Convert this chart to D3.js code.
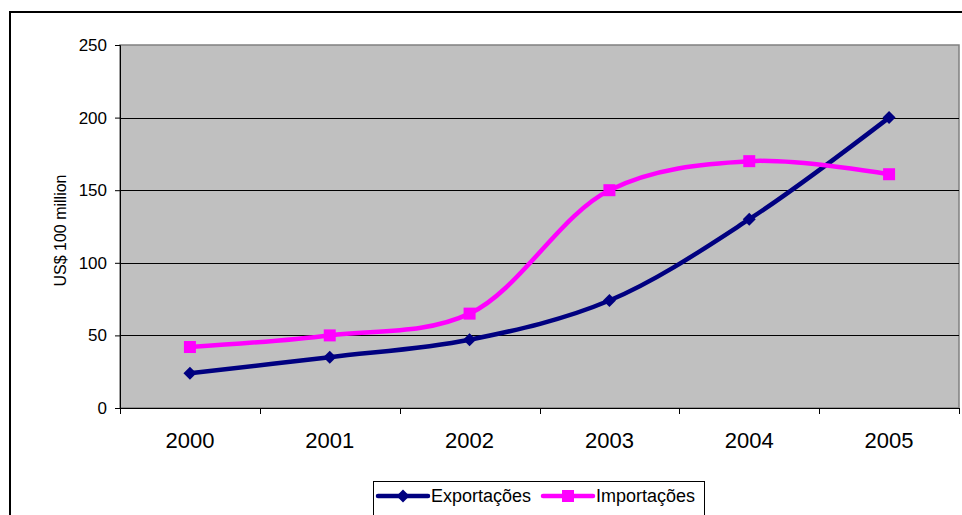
<!DOCTYPE html>
<html>
<head>
<meta charset="utf-8">
<script src="https://cdn.jsdelivr.net/npm/d3@7"></script>
<style>
  html, body { margin: 0; padding: 0; background: #fff; }
  svg { display: block; font-family: "Liberation Sans", Arial, sans-serif; }
</style>
</head>
<body>
<svg id="chart" width="962" height="515"></svg>
<script>
// Trade values by year (US$ 100 million)
const years = ["2000", "2001", "2002", "2003", "2004", "2005"];
const exportacoes = [24, 35, 47, 74, 130, 200];
const importacoes = [42, 50, 65, 150, 170, 161];
const yTicks = [0, 50, 100, 150, 200, 250];
const seriesNames = ["Exportações", "Importações"];

const FONT = "'Liberation Sans', Arial, sans-serif";
const svg = d3.select("#chart");
const plot = { left: 120, right: 959, top: 45, bottom: 408 };

// Outer chart frame
svg.append("rect")
  .attr("x", 10).attr("y", 12).attr("width", 970).attr("height", 520)
  .attr("fill", "#fff").attr("stroke", "#000").attr("stroke-width", 2);

const x = d3.scaleBand().domain(years).range([plot.left, plot.right]).padding(0);
const y = d3.scaleLinear().domain([0, 250]).range([plot.bottom, plot.top]);

// Plot area background
svg.append("rect")
  .attr("x", plot.left).attr("y", plot.top)
  .attr("width", plot.right - plot.left).attr("height", plot.bottom - plot.top)
  .attr("fill", "#C0C0C0").attr("stroke", "#808080").attr("stroke-width", 1.5);

// Horizontal gridlines
svg.append("g").selectAll("line")
  .data(yTicks.filter(d => d > 0 && d < 250))
  .join("line")
  .attr("x1", plot.left).attr("x2", plot.right)
  .attr("y1", d => Math.round(y(d)) + 0.5).attr("y2", d => Math.round(y(d)) + 0.5)
  .attr("stroke", "#000").attr("stroke-width", 1);

// Y axis
const yAxis = d3.axisLeft(y).tickValues(yTicks).tickSize(5).tickPadding(8);
const gy = svg.append("g").attr("transform", `translate(${plot.left},0)`).call(yAxis);
gy.select(".domain").attr("stroke", "#000");
gy.selectAll(".tick line").attr("stroke", "#000");
gy.selectAll("text").attr("font-size", 17).attr("fill", "#000")
  .attr("font-family", FONT);

// X axis: ticks between categories
const boundaries = years.map(d => x(d)).concat([x(years[years.length - 1]) + x.bandwidth()]);
svg.append("line")
  .attr("x1", plot.left).attr("x2", plot.right)
  .attr("y1", plot.bottom + 0.5).attr("y2", plot.bottom + 0.5)
  .attr("stroke", "#000");
svg.append("g").selectAll("line")
  .data(boundaries)
  .join("line")
  .attr("x1", d => Math.round(d) + 0.5).attr("x2", d => Math.round(d) + 0.5)
  .attr("y1", plot.bottom).attr("y2", plot.bottom + 6)
  .attr("stroke", "#000");
svg.append("g").selectAll("text")
  .data(years)
  .join("text")
  .attr("x", d => x(d) + x.bandwidth() / 2)
  .attr("y", 448)
  .attr("text-anchor", "middle")
  .attr("font-size", 22)
  .text(d => d);

// Y axis title
svg.append("text")
  .attr("transform", `translate(66,${(plot.top + plot.bottom) / 2 + 4}) rotate(-90)`)
  .attr("text-anchor", "middle")
  .attr("font-size", 16)
  .text("US$ 100 million");

const cx = d => x(d) + x.bandwidth() / 2;
const line = d3.line().curve(d3.curveCatmullRom.alpha(0.5));

const series = [
  { name: seriesNames[0], values: exportacoes, color: "#000080", marker: "diamond" },
  { name: seriesNames[1], values: importacoes, color: "#FF00FF", marker: "square" }
];

function drawMarker(g, px, py, s) {
  if (s.marker === "diamond") {
    g.append("path")
      .attr("d", `M${px},${py - 6.5}L${px + 6.5},${py}L${px},${py + 6.5}L${px - 6.5},${py}Z`)
      .attr("fill", s.color);
  } else {
    g.append("rect")
      .attr("x", px - 6).attr("y", py - 6).attr("width", 12).attr("height", 12)
      .attr("fill", s.color);
  }
}

series.forEach(s => {
  const pts = years.map((yr, i) => [cx(yr), y(s.values[i])]);
  const g = svg.append("g");
  g.append("path").attr("d", line(pts))
    .attr("fill", "none").attr("stroke", s.color).attr("stroke-width", 4.5)
    .attr("stroke-linejoin", "round");
  pts.forEach(p => drawMarker(g, p[0], p[1], s));
});

// Legend
const lg = svg.append("g");
lg.append("rect").attr("x", 373.5).attr("y", 481.5).attr("width", 331).attr("height", 50)
  .attr("fill", "#fff").attr("stroke", "#000").attr("stroke-width", 1);
const legendItems = [
  { s: series[0], x0: 378, tx: 431 },
  { s: series[1], x0: 543, tx: 596 }
];
legendItems.forEach(it => {
  lg.append("line").attr("x1", it.x0).attr("x2", it.x0 + 50)
    .attr("y1", 496).attr("y2", 496)
    .attr("stroke", it.s.color).attr("stroke-width", 4.5).attr("stroke-linecap", "round");
  drawMarker(lg, it.x0 + 25, 496, it.s);
  lg.append("text").attr("x", it.tx).attr("y", 502).attr("font-size", 18)
    .text(it.s.name);
});
</script>
</body>
</html>
